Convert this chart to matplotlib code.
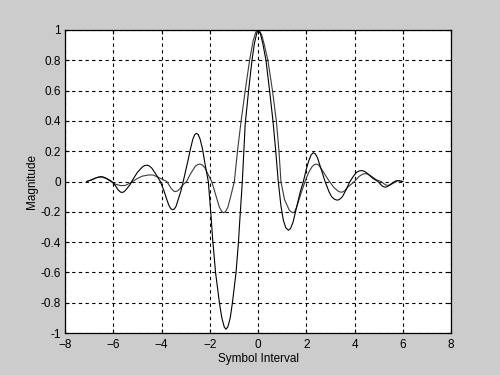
import matplotlib
matplotlib.use("Agg")
import matplotlib.pyplot as plt

# Curve A (asymmetric pulse with deep negative lobe)
xa = [-7.1, -6.9, -6.7, -6.6, -6.5, -6.4, -6.3, -6.1, -6.0, -5.9, -5.8, -5.7, -5.6, -5.5,
      -5.3, -5.2, -5.0, -4.8, -4.7, -4.6, -4.5, -4.4, -4.2, -4.05, -3.9, -3.8, -3.7,
      -3.62, -3.55, -3.47, -3.4, -3.2, -3.1, -2.9, -2.8, -2.7, -2.62, -2.55, -2.48,
      -2.4, -2.3, -2.2, -2.06, -1.95, -1.88, -1.76, -1.6, -1.5, -1.4, -1.33, -1.25,
      -1.15, -1.06, -0.91, -0.81, -0.76, -0.65, -0.53, -0.39, -0.25, -0.15, -0.05, 0.02,
      0.1, 0.2, 0.33, 0.48, 0.62, 0.73, 0.84, 0.95, 1.05, 1.15, 1.26, 1.35, 1.45, 1.6,
      1.75, 1.88, 2.0, 2.1, 2.2, 2.29, 2.38, 2.47, 2.6, 2.78, 2.95, 3.05, 3.15, 3.25,
      3.33, 3.42, 3.5, 3.65, 3.81, 4.0, 4.1, 4.2, 4.3, 4.4, 4.5, 4.75, 4.99, 5.1, 5.18,
      5.25, 5.33, 5.4, 5.55, 5.7, 5.8, 5.9, 6.0]
ya = [0.0, 0.01, 0.025, 0.03, 0.032, 0.029, 0.022, 0.005, -0.01, -0.03, -0.055, -0.07,
      -0.072, -0.06, -0.02, 0.01, 0.06, 0.095, 0.105, 0.108, 0.102, 0.088, 0.04, 0.0,
      -0.06, -0.11, -0.155, -0.178, -0.186, -0.182, -0.165, -0.065, 0.0, 0.14, 0.215,
      0.28, 0.31, 0.318, 0.31, 0.28, 0.215, 0.12, 0.0, -0.22, -0.38, -0.6, -0.8, -0.9,
      -0.96, -0.975, -0.96, -0.9, -0.8, -0.6, -0.4, -0.27, 0.0, 0.38, 0.6, 0.8, 0.91, 0.98,
      1.0, 0.975, 0.91, 0.8, 0.6, 0.4, 0.21, 0.0, -0.16, -0.255, -0.305, -0.322, -0.31,
      -0.27, -0.17, -0.07, 0.0, 0.08, 0.135, 0.175, 0.19, 0.182, 0.155, 0.09, 0.0,
      -0.07, -0.1, -0.115, -0.122, -0.122, -0.113, -0.1, -0.055, 0.0, 0.045, 0.062,
      0.07, 0.072, 0.068, 0.058, 0.022, -0.002, -0.022, -0.033, -0.037, -0.036, -0.03,
      -0.012, 0.003, 0.006, 0.003, 0.0]

# Curve B (symmetric sinc-like pulse)
xb = [-7.1, -6.9, -6.7, -6.5, -6.3, -6.1, -5.9, -5.7, -5.5, -5.3, -5.2, -5.0, -4.8, -4.55,
      -4.35, -4.1, -3.78, -3.6, -3.5, -3.44, -3.35, -3.25, -3.1, -2.96, -2.8, -2.6, -2.5,
      -2.4, -2.3, -2.2, -2.05, -1.92, -1.75, -1.6, -1.5, -1.43, -1.35, -1.25, -1.15,
      -0.98, -0.85, -0.70, -0.53, -0.35, -0.2, -0.08, 0.03, 0.15, 0.25, 0.41, 0.60, 0.76,
      0.87, 0.95, 1.1, 1.3, 1.4, 1.45, 1.52, 1.6, 1.8, 1.95, 2.1, 2.25, 2.35, 2.42, 2.5,
      2.6, 2.8, 2.96, 3.15, 3.33, 3.42, 3.5, 3.6, 3.7, 4.0, 4.2, 4.35, 4.45, 4.55, 4.7,
      4.9, 5.1, 5.3, 5.45, 5.6, 5.8, 6.0]
yb = [0.0, 0.012, 0.025, 0.03, 0.02, 0.0, -0.018, -0.027, -0.026, -0.01, 0.0, 0.02,
      0.035, 0.043, 0.043, 0.025, 0.0, -0.045, -0.062, -0.067, -0.063, -0.05, -0.02, 0.0,
      0.05, 0.1, 0.112, 0.115, 0.108, 0.09, 0.04, 0.0, -0.09, -0.17, -0.198, -0.206,
      -0.2, -0.17, -0.11, 0.0, 0.2, 0.4, 0.6, 0.8, 0.93, 0.99, 1.0, 0.97, 0.91, 0.8, 0.6,
      0.4, 0.2, 0.0, -0.12, -0.19, -0.203, -0.206, -0.2, -0.17, -0.07, 0.0, 0.06, 0.1,
      0.112, 0.115, 0.11, 0.09, 0.04, 0.0, -0.04, -0.065, -0.07, -0.07, -0.06, -0.04,
      0.0, 0.035, 0.049, 0.052, 0.049, 0.035, 0.012, 0.0, -0.024, -0.025, -0.012, 0.006,
      0.0]

xticks = [-8, -6, -4, -2, 0, 2, 4, 6, 8]
yticks = [-1, -0.8, -0.6, -0.4, -0.2, 0, 0.2, 0.4, 0.6, 0.8, 1]
ytick_labels = ["-1", "-0.8", "-0.6", "-0.4", "-0.2", "0", "0.2", "0.4", "0.6", "0.8", "1"]

plt.rcParams['font.family'] = ['Liberation Sans', 'DejaVu Sans']
fig = plt.figure(figsize=(5, 3.75), dpi=100, facecolor='#cccccc')
ax = fig.add_axes([0.13, 0.112, 0.772, 0.808])
ax.set_facecolor('white')

ax.plot(xb, yb, color='#3a3a3a', linewidth=0.8)
ax.plot(xa, ya, color='#000000', linewidth=0.8)

ax.set_xlim(-8, 8)
ax.set_ylim(-1, 1)
ax.set_xticks(xticks)
ax.set_yticks(yticks)
ax.set_yticklabels(ytick_labels)
ax.grid(True, color='black', linestyle=(0, (3, 3)), linewidth=0.8)
ax.tick_params(direction='in', length=3, width=0.8, top=True, right=True,
               labelsize=8.5)
ax.tick_params(axis='x', pad=4)
ax.tick_params(axis='y', pad=3)
for s in ax.spines.values():
    s.set_linewidth(0.9)
    s.set_color('black')
ax.set_xlabel('Symbol Interval', fontsize=8.5, labelpad=2)
ax.set_ylabel('Magnitude', fontsize=8.5, labelpad=2)

fig.savefig('out.png', dpi=100, facecolor=fig.get_facecolor())
